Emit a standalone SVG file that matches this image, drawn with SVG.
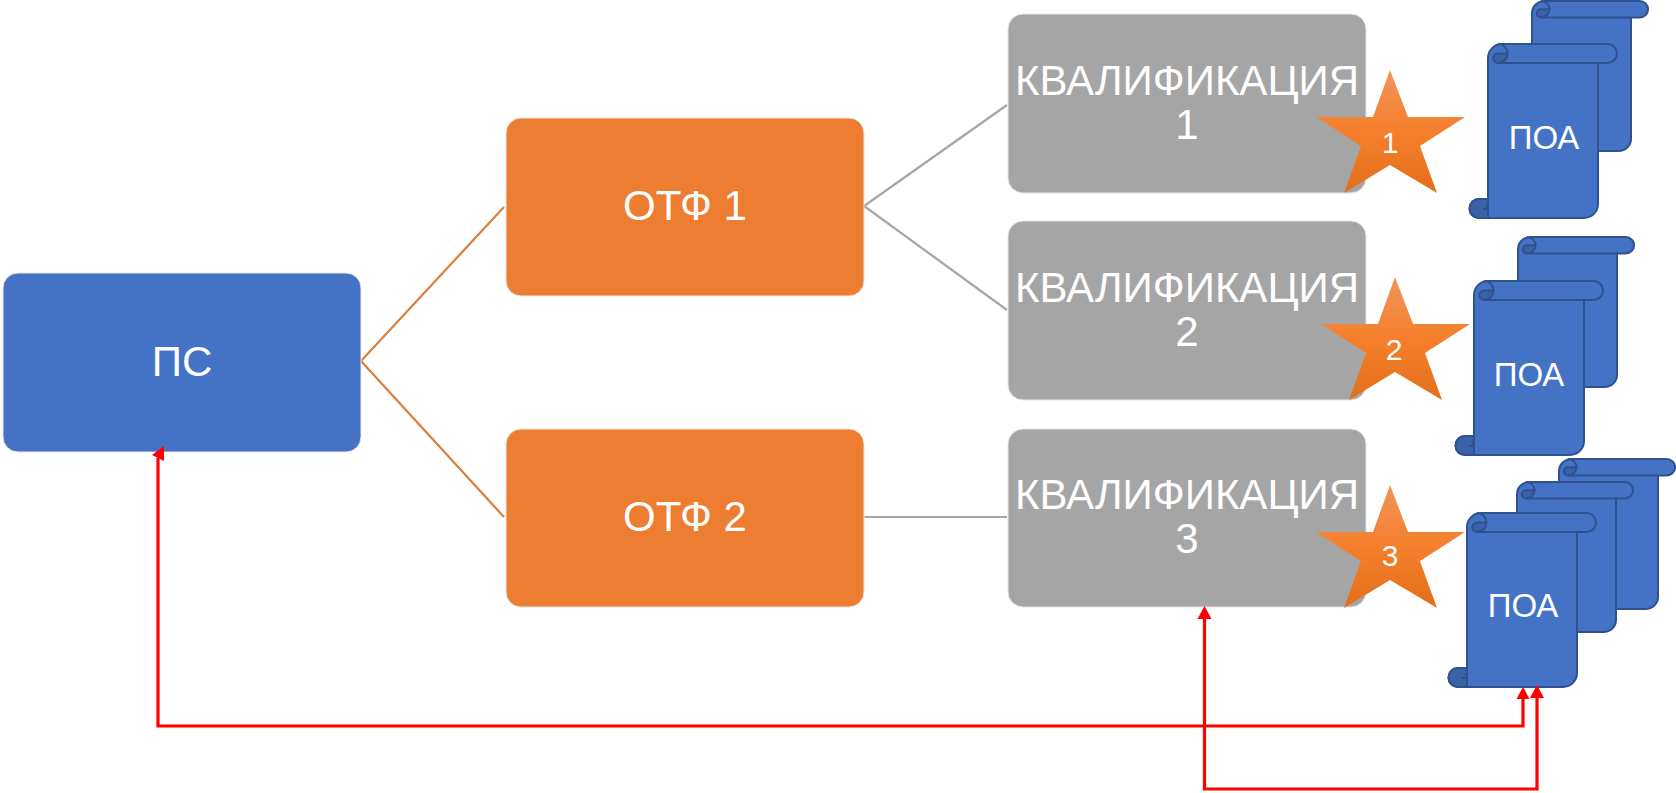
<svg xmlns="http://www.w3.org/2000/svg" xmlns:xlink="http://www.w3.org/1999/xlink" width="1676" height="793" viewBox="0 0 1676 793">
<style>
text{font-family:"Liberation Sans",Arial,sans-serif;fill:#fff;text-anchor:middle}
.b{font-size:42px}.p{font-size:33px}.s{font-size:30px}
.box{stroke:#e6e6e6;stroke-width:1}
.blue{fill:#4472c4}.or{fill:#ed7d31}.gr{fill:#a5a5a5}
.co{fill:none;stroke:#dd7d3a;stroke-width:2.200}
.cg{fill:none;stroke:#a5a5a5;stroke-width:2.200}
.cr{fill:none;stroke:#f00;stroke-width:3.200}
.ah{fill:#f00}
.sc{fill:#4472c4;stroke:#2f528f;stroke-width:2;vector-effect:non-scaling-stroke}
.sd{fill:#3a62a8;stroke:#2f528f;stroke-width:2;vector-effect:non-scaling-stroke}
.sl{fill:none;stroke:#2f528f;stroke-width:2;vector-effect:non-scaling-stroke}
.st{fill:url(#sg)}
</style>
<defs>
<linearGradient id="sg" x1="0" y1="0" x2="0" y2="1">
<stop offset="0" stop-color="#f0955a"/><stop offset=".5" stop-color="#f57f2c"/><stop offset="1" stop-color="#e26f1a"/>
</linearGradient>
<g id="scroll">
<path class="sc" d="M0 14a14 14 0 0 1 14-14H119.500a9.500 9.500 0 0 1 0 19H110V160a14 14 0 0 1-14 14H-9a9.500 9.500 0 0 1 0-19H0Z"/>
<path class="sd" d="M10 19a4.750 4.750 0 0 1 0-9.500H19.500a9.500 9.500 0 0 1-9.500 9.500Z"/>
<path class="sl" d="M10 0a9.500 9.500 0 0 1 9.500 9.500M10 19H110"/>
<path class="sd" d="M-9 174a9.500 9.500 0 0 1 0-19H0V174Z"/>
<path class="sl" d="M-5 165H-1V160"/>
</g>
<polygon id="star" class="st" points="1390,70 1408,117 1465,117 1420,146 1437,193 1390,165 1344,193 1361,146 1316,117 1373,117"/>
</defs>

<g id="connectors">
<path class="co" d="M504 207L361 361L504 517"/>
<path class="cg" d="M1007 105L864 206L1007 310"/>
<path class="cg" d="M864 517H1007"/>
<path class="cr" d="M1523 699V726H158V458"/>
<path class="cr" d="M1537 698V789H1204.500V618"/>
</g>

<g id="ps"><rect class="box blue" x="3" y="273" width="358" height="179" rx="15"/><text class="b" x="182" y="376">ПС</text></g>
<g id="otf1"><rect class="box or" x="506" y="118" width="358" height="178" rx="15"/><text class="b" x="685" y="220">ОТФ 1</text></g>
<g id="otf2"><rect class="box or" x="506" y="429" width="358" height="178" rx="15"/><text class="b" x="685" y="531">ОТФ 2</text></g>
<g id="q1"><rect class="box gr" x="1008" y="14" width="358" height="179" rx="15"/><text class="b" x="1187" y="95">КВАЛИФИКАЦИЯ</text><text class="b" x="1187" y="139">1</text></g>
<g id="q2"><rect class="box gr" x="1008" y="221" width="358" height="179" rx="15"/><text class="b" x="1187" y="302">КВАЛИФИКАЦИЯ</text><text class="b" x="1187" y="346">2</text></g>
<g id="q3"><rect class="box gr" x="1008" y="429" width="358" height="178" rx="15"/><text class="b" x="1187" y="509">КВАЛИФИКАЦИЯ</text><text class="b" x="1187" y="553">3</text></g>

<g id="star1"><use xlink:href="#star" href="#star"/><text class="s" x="1390" y="153">1</text></g>
<g id="star2"><use xlink:href="#star" href="#star" transform="translate(5 207)"/><text class="s" x="1394" y="360">2</text></g>
<g id="star3"><use xlink:href="#star" href="#star" transform="translate(0 415)"/><text class="s" x="1390" y="566">3</text></g>

<g id="poa1b"><use xlink:href="#scroll" href="#scroll" transform="translate(1532 1) scale(.9 .862)"/></g>
<g id="poa1"><use xlink:href="#scroll" href="#scroll" transform="translate(1488 44)"/><text class="p" x="1544" y="149">ПОА</text></g>
<g id="poa2b"><use xlink:href="#scroll" href="#scroll" transform="translate(1518 237) scale(.9 .862)"/></g>
<g id="poa2"><use xlink:href="#scroll" href="#scroll" transform="translate(1474 281)"/><text class="p" x="1529" y="386">ПОА</text></g>
<g id="poa3c"><use xlink:href="#scroll" href="#scroll" transform="translate(1559 459) scale(.9 .862)"/></g>
<g id="poa3b"><use xlink:href="#scroll" href="#scroll" transform="translate(1517 482) scale(.9 .862)"/></g>
<g id="poa3"><use xlink:href="#scroll" href="#scroll" transform="translate(1467 513)"/><text class="p" x="1523" y="617">ПОА</text></g>

<g id="arrowheads">
<polygon class="ah" points="1523,687 1529.500,699 1516.500,699"/>
<polygon class="ah" points="1537,685 1544,698 1530,698"/>
<polygon class="ah" points="1204.500,606 1211.500,619 1197.500,619"/>
<polygon class="ah" points="164,446 164,461 152,455"/>
</g>
</svg>
